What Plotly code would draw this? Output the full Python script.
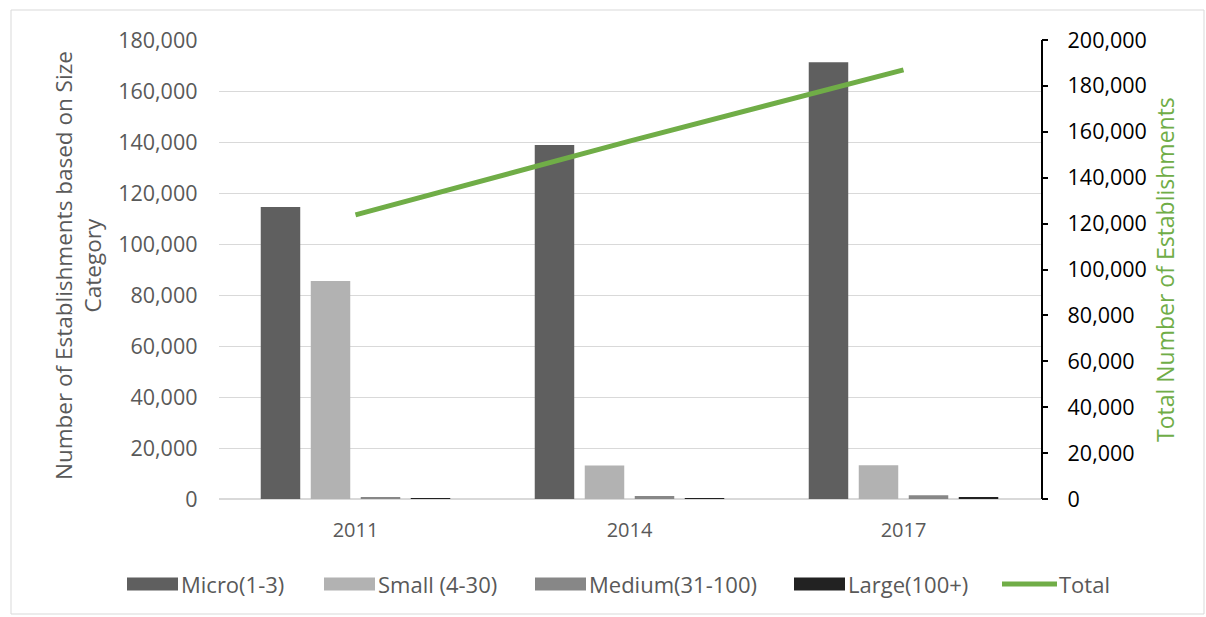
import plotly.graph_objects as go

# Survey years and establishment counts by size category
years = ["2011", "2014", "2017"]
micro = [114500, 138800, 171300]
small = [85500, 13100, 13200]
medium = [400, 1200, 1450]
large = [60, 150, 400]
total = [123800, 155900, 187000]

series_names = ["Micro(1-3)", "Small (4-30)", "Medium(31-100)", "Large(100+)"]
series_values = [micro, small, medium, large]
series_colors = ["#5f5f5f", "#b2b2b2", "#878787", "#222222"]
total_name = "Total"
total_color = "#70AD47"

W, H = 1206, 617
FONT = "Open Sans, Liberation Sans, sans-serif"
GREY_TXT = "#595959"

def px_x(v):
    return v / W

def px_y(v):
    return 1 - v / H

fig = go.Figure()

for name, vals, col in zip(series_names, series_values, series_colors):
    fig.add_trace(go.Bar(
        x=years, y=vals, name=name, marker=dict(color=col, line=dict(width=0)),
        showlegend=False, yaxis="y",
    ))

fig.add_trace(go.Scatter(
    x=years, y=total, name=total_name, mode="lines",
    line=dict(color=total_color, width=5), showlegend=False, yaxis="y2",
))

# Plot area placement (pixels)
plot_l, plot_r, plot_t, plot_b = 218.5, 1040.5, 40, 499

fig.update_layout(
    width=W, height=H,
    margin=dict(l=0, r=0, t=0, b=0, autoexpand=False),
    showlegend=False,
    paper_bgcolor="white", plot_bgcolor="white",
    font=dict(family=FONT, color=GREY_TXT),
    barmode="group", bargap=0.27, bargroupgap=0.21,
    xaxis=dict(
        domain=[px_x(plot_l), px_x(plot_r)], automargin=False,
        type="category", showgrid=False, showline=False, zeroline=False,
        ticks="", tickfont=dict(size=20, color=GREY_TXT, family=FONT),
        ticklabelstandoff=17,
    ),
    yaxis=dict(
        domain=[px_y(plot_b), px_y(plot_t)], automargin=False,
        range=[0, 180000], dtick=20000, tickformat=",",
        showgrid=True, gridcolor="#d9d9d9", gridwidth=1,
        zeroline=True, zerolinecolor="#d9d9d9", zerolinewidth=1.5,
        showline=False, ticks="",
        tickfont=dict(size=21.5, color=GREY_TXT, family=FONT),
        ticklabelstandoff=20,
    ),
    yaxis2=dict(
        overlaying="y", side="right", anchor="x", automargin=False,
        range=[0, 200000], dtick=20000, tickformat=",",
        showgrid=False, zeroline=False,
        showline=True, linecolor="black", linewidth=1.5,
        ticks="outside", ticklen=6, tickcolor="black", tickwidth=1.5,
        tickfont=dict(size=21.5, color="black", family=FONT),
        ticklabelstandoff=15,
    ),
)

annotations = [
    dict(text="Number of Establishments based on Size<br>Category",
         x=px_x(78), y=px_y(266), xref="paper", yref="paper",
         textangle=-90, showarrow=False, xanchor="center", yanchor="middle",
         font=dict(size=22.5, color=GREY_TXT, family=FONT)),
    dict(text="Total Number of Establishments",
         x=px_x(1165), y=px_y(270), xref="paper", yref="paper",
         textangle=-90, showarrow=False, xanchor="center", yanchor="middle",
         font=dict(size=23, color=total_color, family=FONT)),
]

shapes = [
    # chart frame
    dict(type="rect", xref="paper", yref="paper",
         x0=px_x(11), x1=px_x(1204), y0=px_y(614), y1=px_y(10),
         line=dict(color="#d9d9d9", width=1), fillcolor="rgba(0,0,0,0)", layer="below"),
]

# Legend row along the bottom
leg_y = 584
swatch_x = [127, 324, 535, 794]
swatch_w = 51
for name, col, sx in zip(series_names, series_colors, swatch_x):
    shapes.append(dict(type="rect", xref="paper", yref="paper",
                       x0=px_x(sx), x1=px_x(sx + swatch_w),
                       y0=px_y(leg_y + 6.5), y1=px_y(leg_y - 6.5),
                       fillcolor=col, line=dict(width=0)))
    annotations.append(dict(text=name, x=px_x(sx + swatch_w + 1), y=px_y(leg_y),
                            xref="paper", yref="paper", showarrow=False,
                            xanchor="left", yanchor="middle",
                            font=dict(size=22, color=GREY_TXT, family=FONT)))

line_x0, line_x1 = 1002, 1057
shapes.append(dict(type="line", xref="paper", yref="paper",
                   x0=px_x(line_x0), x1=px_x(line_x1), y0=px_y(leg_y), y1=px_y(leg_y),
                   line=dict(color=total_color, width=5)))
annotations.append(dict(text=total_name, x=px_x(line_x1), y=px_y(leg_y),
                        xref="paper", yref="paper", showarrow=False,
                        xanchor="left", yanchor="middle",
                        font=dict(size=22, color=GREY_TXT, family=FONT)))

fig.update_layout(annotations=annotations, shapes=shapes)

fig.write_html("out.html")
